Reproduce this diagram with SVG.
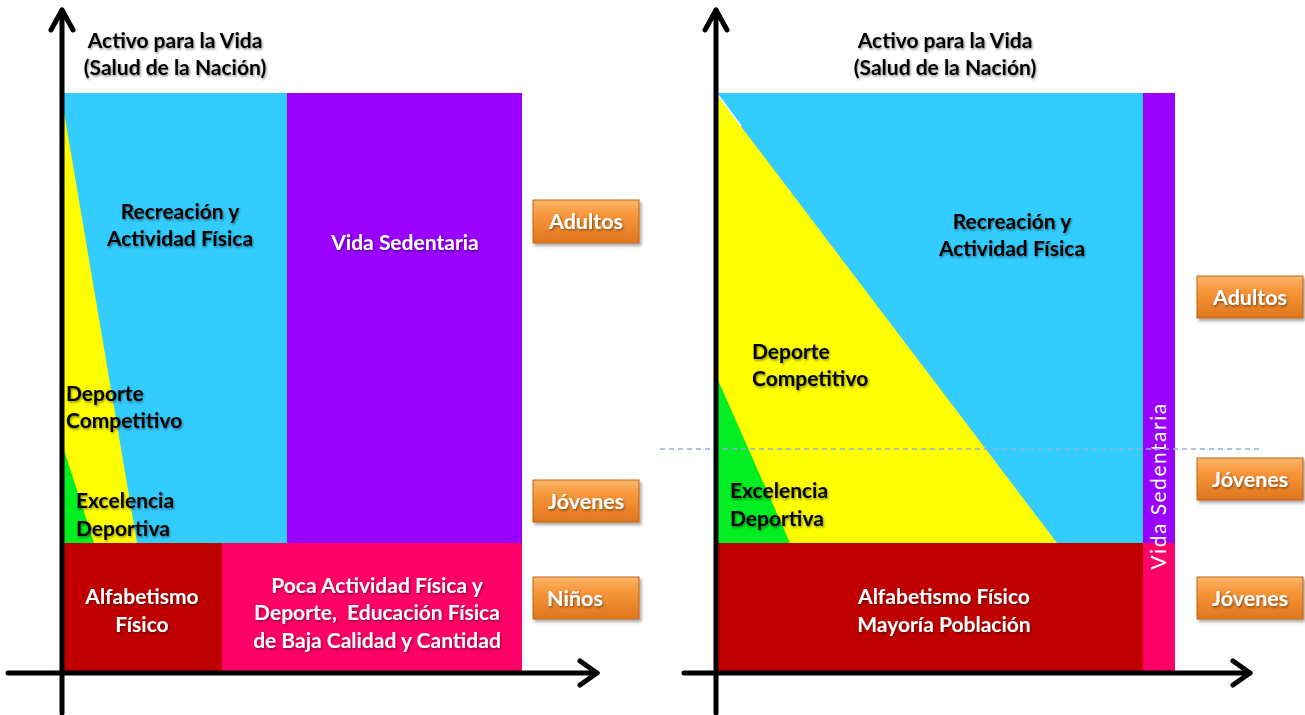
<svg xmlns="http://www.w3.org/2000/svg" width="1305" height="715" viewBox="0 0 1305 715">
<defs>
<linearGradient id="og" x1="0" y1="0" x2="0" y2="1">
<stop offset="0" stop-color="#fbb76a"/>
<stop offset="0.35" stop-color="#f7963a"/>
<stop offset="1" stop-color="#e0761c"/>
</linearGradient>
<filter id="ts" x="-10%" y="-30%" width="120%" height="160%">
<feDropShadow dx="1" dy="1.5" stdDeviation="1" flood-color="#000" flood-opacity="0.45"/>
</filter>
<filter id="bs" x="-10%" y="-20%" width="125%" height="150%">
<feDropShadow dx="2" dy="2.5" stdDeviation="1.5" flood-color="#000" flood-opacity="0.35"/>
</filter>
</defs>
<style>
text{font-family:Lato,"Open Sans","Liberation Sans",sans-serif;font-weight:700;font-size:21px}
.b{fill:#000;filter:url(#ts)}
.w{fill:#fff;filter:url(#ts)}
.c{text-anchor:middle}
.ax{stroke:#000;stroke-width:5;fill:none;stroke-linecap:round;stroke-linejoin:round}
.btn{fill:url(#og);stroke:#c0651a;stroke-width:1;filter:url(#bs)}
.bt{fill:#fff;font-size:21.5px;text-anchor:middle;filter:url(#ts)}
</style>
<rect width="1305" height="715" fill="#fff"/>

<g id="left-chart">
<rect x="64" y="93" width="223" height="450" fill="#33ccff"/>
<rect x="287" y="93" width="235" height="450" fill="#9900ff"/>
<polygon points="64,112 137,543 64,543" fill="#ffff00"/>
<polygon points="64,450 94,543 64,543" fill="#00ee22"/>
<rect x="64" y="543" width="158" height="128" fill="#c00000"/>
<rect x="222" y="543" width="300" height="128" fill="#ff0066"/>
</g>

<g id="left-labels">
<text class="b c" x="175" y="48">Activo para la Vida</text>
<text class="b c" x="175" y="75">(Salud de la Nación)</text>
<text class="b c" x="180" y="219">Recreación y</text>
<text class="b c" x="180" y="246">Actividad Física</text>
<text class="w c" x="405" y="250">Vida Sedentaria</text>
<text class="b" x="66" y="401">Deporte</text>
<text class="b" x="66" y="428">Competitivo</text>
<text class="b" x="76" y="508">Excelencia</text>
<text class="b" x="76" y="536">Deportiva</text>
<text class="w c" x="142" y="604">Alfabetismo</text>
<text class="w c" x="142" y="632">Físico</text>
<text class="w c" x="377" y="593">Poca Actividad Física y</text>
<text class="w c" x="377" y="620" xml:space="preserve">Deporte,  Educación Física</text>
<text class="w c" x="377" y="648">de Baja Calidad y Cantidad</text>
</g>

<g id="right-chart">
<rect x="718" y="93" width="425" height="450" fill="#33ccff"/>
<polygon points="718,96 1057,543 718,543" fill="#ffff00"/>
<line x1="718" y1="95" x2="741" y2="126" stroke="#fff" stroke-width="1.5"/>
<polygon points="718,380 790,543 718,543" fill="#00ee22"/>
<rect x="1143" y="93" width="32" height="450" fill="#9900ff"/>
<rect x="718" y="543" width="425" height="128" fill="#c00000"/>
<rect x="1143" y="543" width="32" height="128" fill="#ff0066"/>
</g>

<g id="right-labels">
<text class="b c" x="945" y="48">Activo para la Vida</text>
<text class="b c" x="945" y="75">(Salud de la Nación)</text>
<text class="b c" x="1012" y="229">Recreación y</text>
<text class="b c" x="1012" y="256">Actividad Física</text>
<text class="b" x="752" y="359">Deporte</text>
<text class="b" x="752" y="386">Competitivo</text>
<text class="b" x="730" y="498">Excelencia</text>
<text class="b" x="730" y="526">Deportiva</text>
<text class="w c" x="944" y="604">Alfabetismo Físico</text>
<text class="w c" x="944" y="632">Mayoría Población</text>
<text fill="#fff" style="font-weight:400;letter-spacing:1.5px" text-anchor="middle" transform="translate(1166,486) rotate(-90)">Vida Sedentaria</text>
</g>

<g id="connectors">
<line x1="660" y1="449" x2="1260" y2="449" stroke="#8fb2dc" stroke-width="1.5" stroke-dasharray="5,4"/>
<line class="ax" x1="62" y1="10" x2="62" y2="713"/>
<polyline class="ax" points="51,30 62,10 73,30"/>
<line class="ax" x1="8" y1="673" x2="597" y2="673"/>
<polyline class="ax" points="580,661 597,673 580,685"/>
<line class="ax" x1="716" y1="10" x2="716" y2="713"/>
<polyline class="ax" points="705,30 716,10 727,30"/>
<line class="ax" x1="684" y1="673" x2="1250" y2="673"/>
<polyline class="ax" points="1233,661 1250,673 1233,685"/>
</g>

<g id="btn-adultos-l"><rect class="btn" x="533" y="200" width="106" height="43"/><text class="bt" x="586" y="229">Adultos</text></g>
<g id="btn-jovenes-l"><rect class="btn" x="533" y="480" width="106" height="42"/><text class="bt" x="586" y="509">Jóvenes</text></g>
<g id="btn-ninos-l"><rect class="btn" x="533" y="577" width="106" height="42"/><text class="bt" x="575" y="606">Niños</text></g>
<g id="btn-adultos-r"><rect class="btn" x="1197" y="276" width="106" height="42"/><text class="bt" x="1250" y="305">Adultos</text></g>
<g id="btn-jovenes-r1"><rect class="btn" x="1197" y="458" width="106" height="42"/><text class="bt" x="1250" y="487">Jóvenes</text></g>
<g id="btn-jovenes-r2"><rect class="btn" x="1197" y="577" width="106" height="42"/><text class="bt" x="1250" y="606">Jóvenes</text></g>
</svg>
